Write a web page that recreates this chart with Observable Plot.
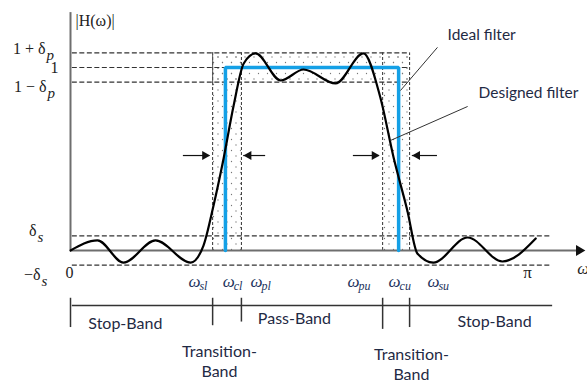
<!DOCTYPE html>
<html><head><meta charset="utf-8">
<script src="https://cdn.jsdelivr.net/npm/d3@7"></script>
<script src="https://cdn.jsdelivr.net/npm/@observablehq/plot@0.6"></script>
<style>body{margin:0;background:#fff;} svg{display:block;}</style>
</head><body><div id="chart"></div>
<script>
// ---- data (x as fraction of π, y as |H(ω)|) ----
const deltaP = 0.08;
const deltaS = 0.08;
const wSL = 0.311, wCL = 0.339, wPL = 0.374, wPU = 0.683, wCU = 0.718, wSU = 0.742;
const designedX = [0, 0.059, 0.116, 0.186, 0.263, 0.291, 0.313, 0.335, 0.357, 0.379, 0.405, 0.460, 0.510, 0.580, 0.641, 0.678, 0.707, 0.737, 0.759, 0.794, 0.869, 0.945, 1.018];
const designedY = [0, 0.055, -0.066, 0.055, -0.066, 0.027, 0.246, 0.503, 0.792, 1.022, 1.077, 0.929, 0.989, 0.913, 1.077, 0.836, 0.508, 0.219, -0.016, -0.066, 0.071, -0.060, 0.066];
const idealX = [wCL, wCL, wCU, wCU];
const idealY = [0, 1, 1, 0];
const levelBase = ["1 + δ", "1", "1 − δ", "δ", "−δ"];
const levelSub = ["p", "", "p", "s", "s"];
const levelY = [1.104, 1.0, 0.896, 0.109, -0.131];
const levelX = [-0.0547, -0.0263, -0.0525, -0.0744, -0.0656];
const omegaSub = ["sl", "cl", "pl", "pu", "cu", "su"];
const omegaX = [0.258, 0.333, 0.394, 0.606, 0.696, 0.781];
const bandTicks = [0, wSL, wPL, wPU, wSU];
const bandTickLen = [0.12, 0.11, 0.09, 0.13, 0.12];
const bandNames = ["Stop-Band", "Transition-\nBand", "Pass-Band", "Transition-\nBand", "Stop-Band"];
const bandNameX = [0.120, 0.326, 0.490, 0.746, 0.928];
const bandNameY = [-0.393, -0.60, -0.366, -0.617, -0.383];

// ---- derived tables ----
const designed = designedX.map((x, i) => ({x, y: designedY[i]}));
const ideal = idealX.map((x, i) => ({x, y: idealY[i]}));
const levels = levelBase.map((t, i) => ({t, s: levelSub[i], x: levelX[i], y: levelY[i]}));
const omegas = omegaSub.map((s, i) => ({s, x: omegaX[i]}));
const strips = [
  {x1: wSL, x2: wPL, y1: 0, y2: 1 + deltaP},
  {x1: wSL, x2: wSU, y1: 1 - deltaP, y2: 1 + deltaP},
  {x1: wPU, x2: wSU, y1: 0, y2: 1 + deltaP}
];
const bandY = -0.301;
const bands = bandNames.map((t, i) => ({t, x: bandNameX[i], y: bandNameY[i]}));
const ticks = bandTicks.map((x, i) => ({x, y1: bandY + 0.04, y2: bandY - bandTickLen[i]}));
const arrowY = 0.519;
const arrows = [
  {x1: 0.247, x2: 0.305, dir: 90},
  {x1: 0.427, x2: 0.379, dir: -90},
  {x1: 0.619, x2: 0.676, dir: 90},
  {x1: 0.803, x2: 0.748, dir: -90}
];
const dash = "5,2.5";
const serif = "Liberation Serif, DejaVu Serif, serif";
const sans = "Lato, Open Sans, sans-serif";
const navy = "#23335c";

const chart = Plot.plot({
  width: 587, height: 385,
  x: {domain: [0, 1], range: [70, 527], axis: null},
  y: {domain: [0, 1], range: [250, 67], axis: null},
  style: {background: "#fff"},
  marks: [
    Plot.rect(strips, {x1: "x1", x2: "x2", y1: "y1", y2: "y2", fill: "url(#dots)"}),
    Plot.ruleY([1 + deltaP, 1, 1 - deltaP], {x1: 0.004, x2: wSU, stroke: "#333", strokeWidth: 1.2, strokeDasharray: dash}),
    Plot.ruleY([deltaS, -deltaS], {x1: 0.004, x2: 1.05, stroke: "#333", strokeWidth: 1.2, strokeDasharray: dash}),
    Plot.ruleX([wSL, wPL, wPU, wSU], {y1: 0, y2: 1 + deltaP, stroke: "#333", strokeWidth: 1, strokeDasharray: "3,2"}),
    Plot.ruleX([wSL], {y1: 0.9, y2: 1 + deltaP, stroke: "#555", strokeWidth: 1}),
    // axes
    Plot.ruleX([0], {y1: 0, y2: 1.30, stroke: "#6e6e6e", strokeWidth: 2}),
    Plot.ruleY([0], {x1: 0, x2: 1.11, stroke: "#6e6e6e", strokeWidth: 2}),
    Plot.dot([{x: 1.113, y: 0}], {x: "x", y: "y", symbol: "triangle", rotate: 90, r: 4, fill: "#111", stroke: "none"}),
    // filters
    Plot.line(ideal, {x: "x", y: "y", stroke: "#14a0e6", strokeWidth: 3.5, strokeLinejoin: "miter"}),
    Plot.line(designed, {x: "x", y: "y", curve: "monotone-x", stroke: "#000", strokeWidth: 2.2}),
    // small arrows
    Plot.ruleY(arrows, {x1: "x1", x2: "x2", y: arrowY, stroke: "#111", strokeWidth: 1.2}),
    Plot.dot(arrows, {x: d => d.x2 - (d.dir > 0 ? 0.011 : -0.011), y: arrowY, symbol: "triangle", rotate: "dir", r: 3.4, fill: "#111", stroke: "none"}),
    // pointers
    Plot.link([{x1: 0.803, y1: 1.110, x2: 0.722, y2: 0.874}, {x1: 0.869, y1: 0.787, x2: 0.700, y2: 0.601}],
      {x1: "x1", y1: "y1", x2: "x2", y2: "y2", stroke: "#333", strokeWidth: 1}),
    Plot.text(["Ideal filter"], {x: 0.825, y: 1.18, text: d => d, textAnchor: "start", fontFamily: sans, fontSize: 15.5, fill: "#1f2a44"}),
    Plot.text(["Designed filter"], {x: 0.893, y: 0.858, text: d => d, textAnchor: "start", fontFamily: sans, fontSize: 15.5, fill: "#1f2a44"}),
    // y labels
    Plot.text(["|H(ω)|"], {x: 0.011, y: 1.257, text: d => d, textAnchor: "start", fontFamily: serif, fontSize: 16, fill: "#222"}),
    Plot.text(levels, {x: "x", y: "y", text: "t", textAnchor: "end", fontFamily: serif, fontSize: 16, fill: "#222"}),
    Plot.text(levels, {x: "x", y: "y", text: "s", dx: 1, dy: 7, textAnchor: "start", fontFamily: serif, fontStyle: "italic", fontSize: 15, fill: "#222"}),
    Plot.text(["0"], {x: -0.002, y: -0.12, text: d => d, fontFamily: serif, fontSize: 16, fill: "#222"}),
    Plot.text(["π"], {x: 1.0, y: -0.12, text: d => d, fontFamily: serif, fontSize: 17, fill: "#222"}),
    Plot.text(["ω"], {x: 1.109, y: -0.10, text: d => d, textAnchor: "start", fontFamily: serif, fontStyle: "italic", fontSize: 17, fill: "#222"}),
    // omega labels
    Plot.text(omegas, {x: "x", y: -0.170, text: () => "ω", textAnchor: "start", fontFamily: serif, fontStyle: "italic", fontSize: 17, fill: navy}),
    Plot.text(omegas, {x: "x", y: -0.170, text: "s", dx: 11, dy: 5, textAnchor: "start", fontFamily: serif, fontStyle: "italic", fontSize: 12, fill: navy}),
    // band line
    Plot.ruleY([bandY], {x1: 0.004, x2: 1.055, stroke: "#333", strokeWidth: 1.5}),
    Plot.ruleX(ticks, {x: "x", y1: "y1", y2: "y2", stroke: "#333", strokeWidth: 1.5}),
    Plot.text(bands, {x: "x", y: "y", text: "t", fontFamily: sans, fontSize: 16, lineHeight: 1.3, fill: "#1f2a44"})
  ]
});

const svg = d3.select(chart);
const defs = svg.insert("defs", ":first-child");
const pat = defs.append("pattern").attr("id", "dots").attr("patternUnits", "userSpaceOnUse")
  .attr("width", 9).attr("height", 11);
pat.append("circle").attr("cx", 2).attr("cy", 2).attr("r", 0.65).attr("fill", "#777");
pat.append("circle").attr("cx", 6.5).attr("cy", 7.5).attr("r", 0.65).attr("fill", "#777");
document.getElementById("chart").appendChild(chart);
</script>
</body></html>
